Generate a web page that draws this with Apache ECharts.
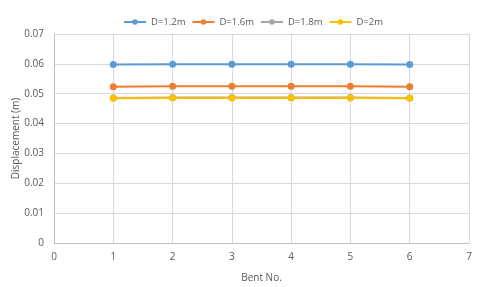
<!DOCTYPE html>
<html><head><meta charset="utf-8">
<script src="https://cdn.jsdelivr.net/npm/echarts@6/dist/echarts.min.js"></script>
<style>html,body{margin:0;padding:0;background:#fff}#c{width:480px;height:287px}</style>
</head><body><div id="c"></div>
<script>
const bents = [1, 2, 3, 4, 5, 6];
const seriesNames = ['D=1.2m', 'D=1.6m', 'D=1.8m', 'D=2m'];
const d12 = [0.0598, 0.0599, 0.0599, 0.0599, 0.0599, 0.0598];
const d16 = [0.0523, 0.0525, 0.0525, 0.0525, 0.0525, 0.0523];
const d18 = [0.0486, 0.0487, 0.0487, 0.0487, 0.0487, 0.0486];
const d20 = [0.0485, 0.0486, 0.0486, 0.0486, 0.0486, 0.0485];
const colors = ['#5B9BD5', '#ED7D31', '#A5A5A5', '#FFC000'];
const values = [d12, d16, d18, d20];
const font = 'Open Sans';
const txt = '#595959';
const chart = echarts.init(document.getElementById('c'));
chart.setOption({
  animation: false,
  color: colors,
  legend: {
    top: 12, left: 118, itemWidth: 22, itemHeight: 7, itemGap: 6,
    textStyle: {fontFamily: font, fontSize: 9.5, color: txt},
    data: seriesNames
  },
  grid: {left: 54, right: 11, top: 34, bottom: 44, outerBoundsMode: 'none', containLabel: false},
  xAxis: {
    type: 'value', min: 0, max: 7, interval: 1,
    name: 'Bent No.', nameLocation: 'middle', nameGap: 30, nameMoveOverlap: false,
    nameTextStyle: {fontFamily: font, fontSize: 10, color: txt},
    axisLine: {show: true, lineStyle: {color: '#BFBFBF'}},
    axisTick: {show: false},
    axisLabel: {fontFamily: font, fontSize: 10, color: txt, margin: 9},
    splitLine: {show: true, lineStyle: {color: '#D9D9D9'}}
  },
  yAxis: {
    type: 'value', min: 0, max: 0.07, interval: 0.01,
    name: 'Displacement (m)', nameLocation: 'middle', nameGap: 33, nameMoveOverlap: false,
    nameTextStyle: {fontFamily: font, fontSize: 10, color: txt},
    axisLine: {show: true, lineStyle: {color: '#BFBFBF'}},
    axisTick: {show: false},
    axisLabel: {fontFamily: font, fontSize: 10, color: txt, margin: 10},
    splitLine: {show: true, lineStyle: {color: '#D9D9D9'}}
  },
  series: seriesNames.map((n, i) => ({
    name: n, type: 'line',
    data: bents.map((b, j) => [b, values[i][j]]),
    symbol: 'circle', symbolSize: 7,
    lineStyle: {width: 2, color: colors[i]},
    itemStyle: {color: colors[i]}
  }))
});
</script></body></html>
